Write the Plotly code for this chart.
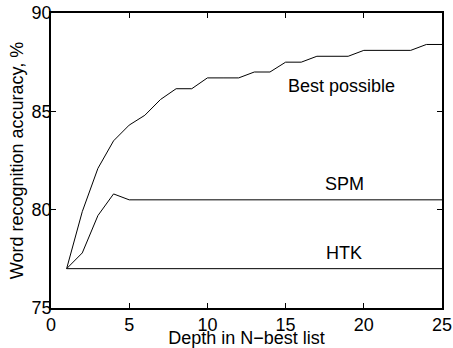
import plotly.graph_objects as go

depth = list(range(1, 26))
best_possible = [77.0, 79.9, 82.1, 83.5, 84.3, 84.8, 85.6, 86.15, 86.15, 86.7,
                 86.7, 86.7, 87.0, 87.0, 87.5, 87.5, 87.8, 87.8, 87.8, 88.1,
                 88.1, 88.1, 88.1, 88.4, 88.4]
spm = [77.0, 77.8, 79.7, 80.8, 80.5, 80.5, 80.5, 80.5, 80.5, 80.5,
       80.5, 80.5, 80.5, 80.5, 80.5, 80.5, 80.5, 80.5, 80.5, 80.5,
       80.5, 80.5, 80.5, 80.5, 80.5]
htk = [77.0] * 25

labels = ["Best possible", "SPM", "HTK"]
label_x = [18.55, 18.75, 18.75]
label_y = [86.3, 81.3, 77.8]

x_ticks = [0, 5, 10, 15, 20, 25]
y_ticks = [75, 80, 85, 90]

FONT = "Liberation Sans, Arial, Helvetica, sans-serif"
FS = 18
line_style = dict(color="black", width=1)

fig = go.Figure()
for name, ys in [("Best possible", best_possible), ("SPM", spm), ("HTK", htk)]:
    fig.add_trace(go.Scatter(x=depth, y=ys, mode="lines", line=line_style,
                             name=name, showlegend=False, hoverinfo="skip"))

for t, xv, yv in zip(labels, label_x, label_y):
    fig.add_annotation(x=xv, y=yv, text=t, showarrow=False,
                       font=dict(family=FONT, size=FS, color="black"),
                       xanchor="center", yanchor="middle")

axis_common = dict(
    showgrid=False, zeroline=False, showline=True, linecolor="black",
    linewidth=1.5, mirror="ticks", ticks="inside", ticklen=5,
    tickcolor="black", tickwidth=1, automargin=False,
    tickfont=dict(family=FONT, size=FS, color="black"),
)

fig.update_xaxes(range=[0, 25], tickvals=x_ticks, ticklabelstandoff=0,
                 title=dict(text="Depth in N\u2212best list", standoff=4,
                            font=dict(family=FONT, size=FS, color="black")),
                 **axis_common)
fig.update_yaxes(range=[75, 90], tickvals=y_ticks, ticklabelstandoff=-6,
                 title=dict(text="Word recognition accuracy, %", standoff=3,
                            font=dict(family=FONT, size=FS, color="black")),
                 **axis_common)

fig.update_layout(
    width=453, height=348,
    margin=dict(l=51, r=11, t=13, b=40),
    paper_bgcolor="white", plot_bgcolor="white",
)

fig.write_html("out.html", config={"displayModeBar": False},
               post_script="document.body.style.margin='0';document.body.style.overflow='hidden';")
